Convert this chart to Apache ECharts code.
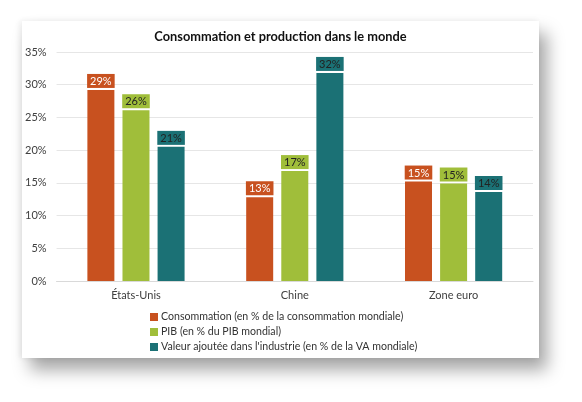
<!DOCTYPE html>
<html><head><meta charset="utf-8">
<script src="https://cdn.jsdelivr.net/npm/echarts@6/dist/echarts.min.js"></script>
<style>
html,body{margin:0;padding:0;background:#fff;width:582px;height:402px;overflow:hidden;}
#card{position:absolute;left:22px;top:21px;width:517px;height:337px;background:#fff;
box-shadow:8px 12px 16px rgba(0,0,0,0.35), -2px 0 6px rgba(0,0,0,0.08);}
#c{width:517px;height:337px;}
</style></head><body>
<div id="card"><div id="c"></div></div>
<script>
const categories = ['États-Unis', 'Chine', 'Zone euro'];
const seriesNames = [
  'Consommation (en % de la consommation mondiale)',
  'PIB (en % du PIB mondial)',
  "Valeur ajoutée dans l'industrie (en % de la VA mondiale)"
];
const consommation = [29.2, 12.8, 15.2];
const pib = [26.1, 16.8, 14.9];
const valeurAjoutee = [20.5, 31.8, 13.6];
const colors = ['#C8511F', '#A0BE3A', '#1B7175'];
const labelColors = ['#ffffff', '#222222', '#222222'];
const values = [consommation, pib, valeurAjoutee];

const font = 'Lato, "Noto Sans", sans-serif';
const chart = echarts.init(document.getElementById('c'));
chart.setOption({
  animation: false,
  textStyle: {fontFamily: font},
  title: {
    text: 'Consommation et production dans le monde',
    left: 'center', top: 4,
    textStyle: {fontFamily: font, fontSize: 12.8, fontWeight: 'bold', color: '#111'}
  },
  grid: {left: 33, right: 6, top: 31, bottom: 77, containLabel: false},
  xAxis: {
    type: 'category', data: categories,
    axisLine: {lineStyle: {color: '#d9d9d9'}},
    axisTick: {show: false},
    axisLabel: {color: '#404040', fontSize: 11, margin: 9, fontFamily: font}
  },
  yAxis: {
    type: 'value', min: 0, max: 35, interval: 5,
    axisLabel: {formatter: '{value}%', color: '#404040', fontSize: 11, margin: 10, fontFamily: font},
    splitLine: {lineStyle: {color: '#e6e6e6'}},
    axisLine: {show: false}, axisTick: {show: false}
  },
  legend: {
    orient: 'vertical', left: 128, top: 289, padding: 0, height: 60,
    itemWidth: 8, itemHeight: 8, itemGap: 1,
    icon: 'rect',
    textStyle: {color: '#333', fontSize: 10.6, fontFamily: font, lineHeight: 14, padding: [0,0,0,-2]},
    data: seriesNames
  },
  series: values.map((v, i) => ({
    name: seriesNames[i], type: 'bar', data: v,
    barWidth: 27, barGap: '30%',
    itemStyle: {color: colors[i]},
    label: {
      show: true, position: 'top', distance: 2,
      formatter: p => Math.round(p.value) + '%',
      backgroundColor: colors[i], color: labelColors[i],
      fontSize: 11, fontFamily: font, padding: [2, 3, 1, 3]
    }
  }))
});
</script>
</body></html>
